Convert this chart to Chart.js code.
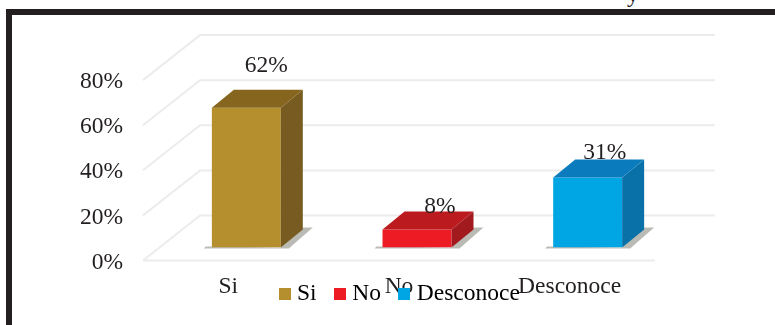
<!DOCTYPE html>
<html>
<head>
<meta charset="utf-8">
<script src="https://cdn.jsdelivr.net/npm/chart.js@4"></script>
<style>
  body { margin: 0; background: #fff; overflow: hidden; }
  #frame { position: absolute; left: 6px; top: 9px; width: 769px; height: 316px; box-sizing: border-box;
           border-left: 6px solid #231f20; border-top: 6px solid #231f20; }
  #cut { position: absolute; left: 627px; top: -19px; font: 23.5px "Liberation Serif"; color: #231f20; }
  canvas { position: absolute; left: 0; top: 0; }
</style>
</head>
<body>
<div id="cut">y</div>
<div id="frame"></div>
<canvas id="chart" width="775" height="325"></canvas>
<script>
const categories = ["Si", "No", "Desconoce"];
const values = [62, 8, 31];
const yTicks = [0, 20, 40, 60, 80];
const frontColors = ["#b58e2d", "#ed1c24", "#00a5e3"];
const topColors = ["#86651f", "#bb1a1e", "#0a7cbd"];
const sideColors = ["#785b20", "#a31a1e", "#0a70a8"];
const labelLift = [23.5, 5, 7];
const labelShift = [20, 23, 17];

const serif = '"Liberation Serif", "Times New Roman", serif';
const ink = "#231f20";

function swatch(color) {
  const c = document.createElement("canvas");
  c.width = 12;
  c.height = 12;
  const g = c.getContext("2d");
  g.fillStyle = color;
  g.fillRect(0, 0, 12, 12);
  return c;
}

// fake 3D: wall and floor lines behind, bars pushed into the floor
const fake3d = {
  id: "fake3d",
  afterLayout(chart) {
    // legend sits tight under the axis and overlaps its labels, as in the original
    chart.legend.top -= 2;
    // labels get clipped to the axis box, so let the box run down under the legend
    chart.scales.x.bottom += 40;
  },
  beforeDatasetsDraw(chart) {
    const { ctx, scales } = chart;
    const { x, y } = scales;
    ctx.save();
    ctx.strokeStyle = "#ececec";
    ctx.lineWidth = 2;
    y.ticks.forEach((t) => {
      const py = y.getPixelForValue(t.value);
      if (t.value < 100) {
        ctx.beginPath();
        ctx.moveTo(x.left, py);
        ctx.lineTo(x.left + 57, py - 45);
        ctx.lineTo(x.right + 60, py - 45);
        ctx.stroke();
      }
    });
    ctx.beginPath();
    ctx.moveTo(x.left, y.bottom);
    ctx.lineTo(x.right, y.bottom);
    ctx.stroke();
    ctx.restore();

    // floor shadows
    ctx.save();
    ctx.fillStyle = "rgba(120,120,110,0.5)";
    chart.getDatasetMeta(0).data.forEach((b) => {
      const l = b.x + 18 - b.width / 2;
      const r = b.x + 18 + b.width / 2;
      const by = b.base - 13;
      ctx.beginPath();
      ctx.moveTo(l - 8, by + 1);
      ctx.lineTo(r + 8, by + 1);
      ctx.lineTo(r + 32, by - 20);
      ctx.lineTo(r + 20, by - 20);
      ctx.lineTo(r, by);
      ctx.lineTo(l - 6, by - 1);
      ctx.closePath();
      ctx.fill();
    });
    ctx.restore();

    ctx.save();
    ctx.translate(18, -13);
  },
  afterDatasetsDraw(chart) {
    const { ctx } = chart;
    chart.getDatasetMeta(0).data.forEach((b, i) => {
      const l = b.x - b.width / 2;
      const r = b.x + b.width / 2;
      ctx.fillStyle = sideColors[i];
      ctx.beginPath();
      ctx.moveTo(r, b.y);
      ctx.lineTo(r + 22, b.y - 18);
      ctx.lineTo(r + 22, b.base - 18);
      ctx.lineTo(r, b.base);
      ctx.closePath();
      ctx.fill();
      ctx.fillStyle = topColors[i];
      ctx.beginPath();
      ctx.moveTo(l, b.y);
      ctx.lineTo(l + 22, b.y - 18);
      ctx.lineTo(r + 22, b.y - 18);
      ctx.lineTo(r, b.y);
      ctx.closePath();
      ctx.fill();
      ctx.fillStyle = ink;
      ctx.font = "23.5px " + serif;
      ctx.textAlign = "center";
      ctx.textBaseline = "middle";
      ctx.fillText(values[i] + "%", b.x + labelShift[i], b.y - 18 - labelLift[i]);
    });
    ctx.restore();
  },
};

new Chart(document.getElementById("chart"), {
  type: "bar",
  data: {
    labels: categories,
    datasets: [
      {
        label: "Respuesta",
        data: values,
        backgroundColor: frontColors,
        barPercentage: 0.404,
        categoryPercentage: 1,
      },
    ],
  },
  options: {
    responsive: false,
    animation: false,
    layout: { padding: { left: 54, right: 25, top: 35, bottom: 7 } },
    scales: {
      x: {
        grid: { display: false },
        border: { display: false },
        ticks: { color: ink, font: { family: serif, size: 23.5 }, padding: 4, z: -1, maxRotation: 0, autoSkip: false },
        afterFit(s) { s.height = 1; },
      },
      y: {
        min: 0,
        max: 100,
        afterBuildTicks(s) { s.ticks = yTicks.concat(100).map((v) => ({ value: v })); },
        grid: { display: false },
        border: { display: false },
        ticks: {
          color: ink,
          font: { family: serif, size: 23.5 },
          padding: 12,
          labelOffset: 2,
          callback: (v) => (yTicks.includes(v) ? v + "%" : ""),
        },
        afterFit(s) { s.width = 89; },
      },
      // empty axis, only keeps room on the right for the back wall
      spare: {
        position: "right",
        grid: { display: false },
        border: { display: false },
        ticks: { display: false },
        afterFit(s) { s.width = 95; },
      },
    },
    plugins: {
      tooltip: { enabled: false },
      legend: {
        position: "bottom",
        labels: {
          color: ink,
          font: { family: serif, size: 23.5 },
          usePointStyle: true,
          pointStyleWidth: 1,
          padding: 23,
          generateLabels: () =>
            categories.map((c, i) => ({
              text: c,
              fillStyle: frontColors[i],
              strokeStyle: frontColors[i],
              lineWidth: 0,
              pointStyle: swatch(frontColors[i]),
              index: i,
            })),
        },
      },
    },
  },
  plugins: [fake3d],
});
</script>
</body>
</html>
